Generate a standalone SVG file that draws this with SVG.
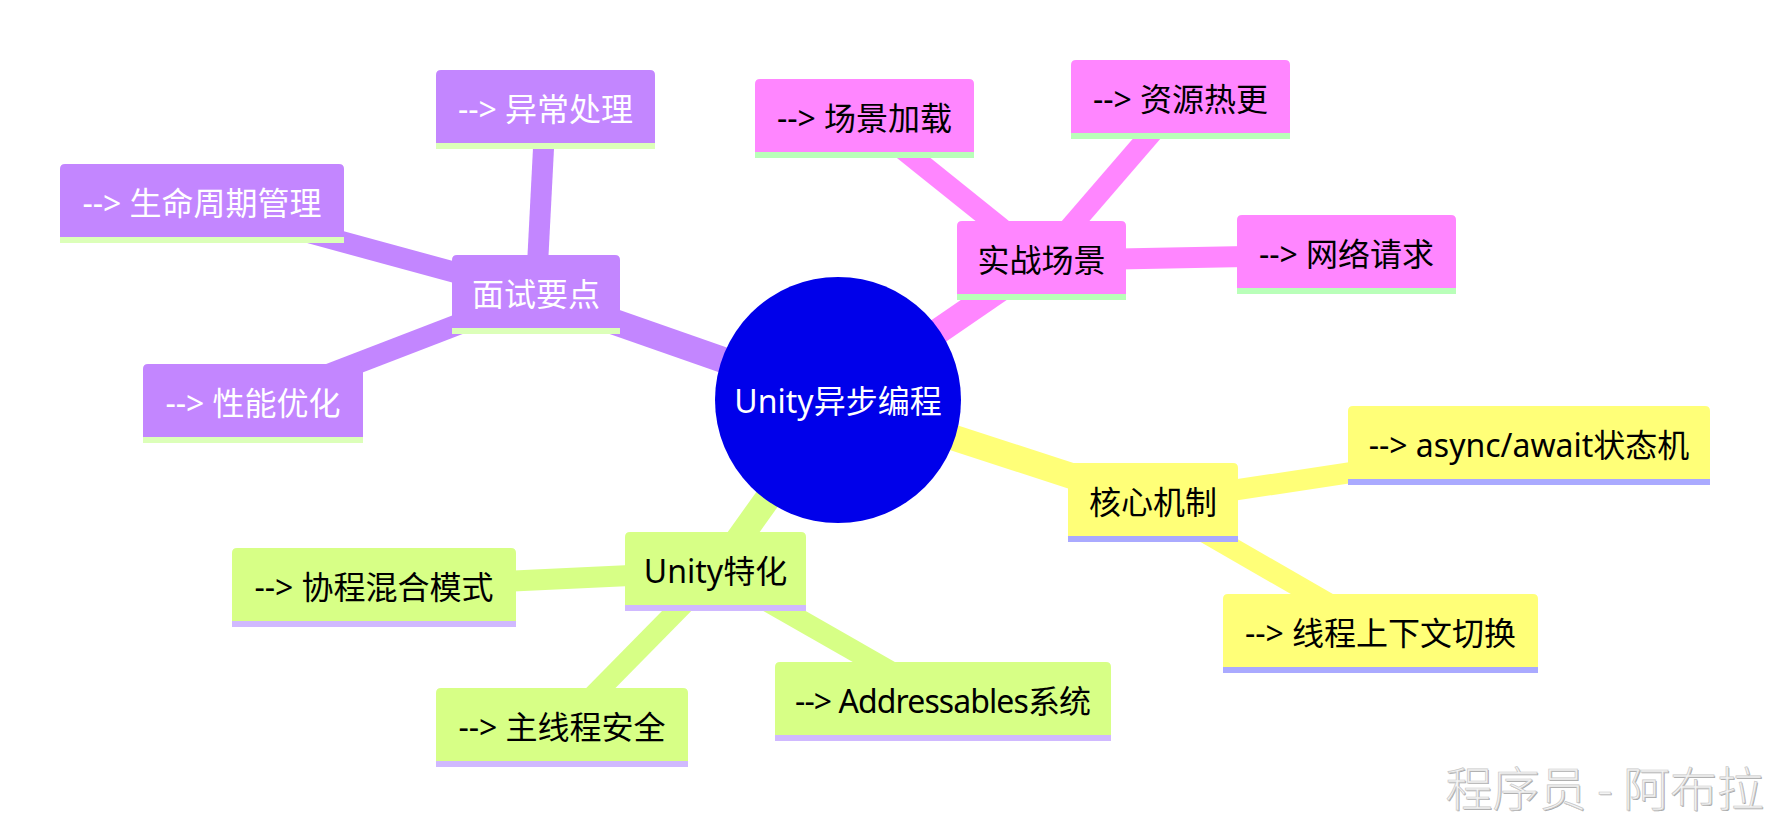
<svg xmlns="http://www.w3.org/2000/svg" width="1770" height="823" viewBox="0 0 1770 823">
<style>
  text { font-family: 'Noto Sans', 'Noto Sans CJK SC', sans-serif; font-size: 32px; text-anchor: middle; }
  .e0 { stroke-width: 26; stroke-linecap: butt; fill: none; }
  .e1 { stroke-width: 21; stroke-linecap: butt; fill: none; }
  .cp { stroke: #C386FF; }
  .ck { stroke: #FF86FF; }
  .cy { stroke: #FFFF78; }
  .cg { stroke: #D7FF86; }
  .fp { fill: #C386FF; }
  .fk { fill: #FF86FF; }
  .fy { fill: #FFFF78; }
  .fg { fill: #D7FF86; }
  .up { fill: #DCFFB9; }
  .uk { fill: #B9FFB9; }
  .uy { fill: #AAAAFF; }
  .ug { fill: #D0B9FF; }
  .tw { fill: #FFFFFF; }
  .tb { fill: #000000; }
  .wm { font-family: 'Noto Sans CJK SC', sans-serif; font-size: 47px; font-weight: 300; text-anchor: end; }
</style>
<rect width="1770" height="823" fill="#FFFFFF"/>
<g id="connectors">
  <line class="e0 cp" x1="838" y1="400" x2="536" y2="294.5"/>
  <line class="e0 ck" x1="838" y1="400" x2="1041.5" y2="260.5"/>
  <line class="e0 cy" x1="838" y1="400" x2="1153" y2="502.5"/>
  <line class="e0 cg" x1="838" y1="400" x2="715.5" y2="571.5"/>
  <line class="e1 cp" x1="536" y1="294.5" x2="545.5" y2="109.5"/>
  <line class="e1 cp" x1="536" y1="294.5" x2="202" y2="203.5"/>
  <line class="e1 cp" x1="536" y1="294.5" x2="253" y2="403.5"/>
  <line class="e1 ck" x1="1041.5" y1="260.5" x2="864.5" y2="118.5"/>
  <line class="e1 ck" x1="1041.5" y1="260.5" x2="1180.5" y2="99.5"/>
  <line class="e1 ck" x1="1041.5" y1="260.5" x2="1346.5" y2="254.5"/>
  <line class="e1 cg" x1="715.5" y1="571.5" x2="374" y2="587.5"/>
  <line class="e1 cg" x1="715.5" y1="571.5" x2="562" y2="727.5"/>
  <line class="e1 cg" x1="715.5" y1="571.5" x2="943" y2="701.5"/>
  <line class="e1 cy" x1="1153" y1="502.5" x2="1529" y2="445.5"/>
  <line class="e1 cy" x1="1153" y1="502.5" x2="1380.5" y2="633.5"/>
</g>
<g id="root">
  <circle cx="838" cy="400" r="123" fill="#0000EA"/>
  <text class="tw" x="838" y="413">Unity异步编程</text>
</g>
<g id="n-mianshi" transform="translate(452,255)">
  <path class="fp" d="M0,73 V5 Q0,0 5,0 H163 Q168,0 168,5 V73 Z"/>
  <rect class="up" x="0" y="73" width="168" height="6"/>
  <text class="tw" x="84" y="51">面试要点</text>
</g>
<g id="n-yichang" transform="translate(436,70)">
  <path class="fp" d="M0,73 V5 Q0,0 5,0 H214 Q219,0 219,5 V73 Z"/>
  <rect class="up" x="0" y="73" width="219" height="6"/>
  <text class="tw" x="109.5" y="51">--&gt; 异常处理</text>
</g>
<g id="n-shengming" transform="translate(60,164)">
  <path class="fp" d="M0,73 V5 Q0,0 5,0 H279 Q284,0 284,5 V73 Z"/>
  <rect class="up" x="0" y="73" width="284" height="6"/>
  <text class="tw" x="142" y="51">--&gt; 生命周期管理</text>
</g>
<g id="n-xingneng" transform="translate(143,364)">
  <path class="fp" d="M0,73 V5 Q0,0 5,0 H215 Q220,0 220,5 V73 Z"/>
  <rect class="up" x="0" y="73" width="220" height="6"/>
  <text class="tw" x="110" y="51">--&gt; 性能优化</text>
</g>
<g id="n-shizhan" transform="translate(957,221)">
  <path class="fk" d="M0,73 V5 Q0,0 5,0 H164 Q169,0 169,5 V73 Z"/>
  <rect class="uk" x="0" y="73" width="169" height="6"/>
  <text class="tb" x="84.5" y="51">实战场景</text>
</g>
<g id="n-changjing" transform="translate(755,79)">
  <path class="fk" d="M0,73 V5 Q0,0 5,0 H214 Q219,0 219,5 V73 Z"/>
  <rect class="uk" x="0" y="73" width="219" height="6"/>
  <text class="tb" x="109.5" y="51">--&gt; 场景加载</text>
</g>
<g id="n-ziyuan" transform="translate(1071,60)">
  <path class="fk" d="M0,73 V5 Q0,0 5,0 H214 Q219,0 219,5 V73 Z"/>
  <rect class="uk" x="0" y="73" width="219" height="6"/>
  <text class="tb" x="109.5" y="51">--&gt; 资源热更</text>
</g>
<g id="n-wangluo" transform="translate(1237,215)">
  <path class="fk" d="M0,73 V5 Q0,0 5,0 H214 Q219,0 219,5 V73 Z"/>
  <rect class="uk" x="0" y="73" width="219" height="6"/>
  <text class="tb" x="109.5" y="51">--&gt; 网络请求</text>
</g>
<g id="n-unity" transform="translate(625,532)">
  <path class="fg" d="M0,73 V5 Q0,0 5,0 H176 Q181,0 181,5 V73 Z"/>
  <rect class="ug" x="0" y="73" width="181" height="6"/>
  <text class="tb" x="90.5" y="51">Unity特化</text>
</g>
<g id="n-xiecheng" transform="translate(232,548)">
  <path class="fg" d="M0,73 V5 Q0,0 5,0 H279 Q284,0 284,5 V73 Z"/>
  <rect class="ug" x="0" y="73" width="284" height="6"/>
  <text class="tb" x="142" y="51">--&gt; 协程混合模式</text>
</g>
<g id="n-zhuxian" transform="translate(436,688)">
  <path class="fg" d="M0,73 V5 Q0,0 5,0 H247 Q252,0 252,5 V73 Z"/>
  <rect class="ug" x="0" y="73" width="252" height="6"/>
  <text class="tb" x="126" y="51">--&gt; 主线程安全</text>
</g>
<g id="n-addr" transform="translate(775,662)">
  <path class="fg" d="M0,73 V5 Q0,0 5,0 H331 Q336,0 336,5 V73 Z"/>
  <rect class="ug" x="0" y="73" width="336" height="6"/>
  <text class="tb" x="168" y="51" textLength="296">--&gt; Addressables系统</text>
</g>
<g id="n-hexin" transform="translate(1068,463)">
  <path class="fy" d="M0,73 V5 Q0,0 5,0 H165 Q170,0 170,5 V73 Z"/>
  <rect class="uy" x="0" y="73" width="170" height="6"/>
  <text class="tb" x="85" y="51">核心机制</text>
</g>
<g id="n-async" transform="translate(1348,406)">
  <path class="fy" d="M0,73 V5 Q0,0 5,0 H357 Q362,0 362,5 V73 Z"/>
  <rect class="uy" x="0" y="73" width="362" height="6"/>
  <text class="tb" x="181" y="51">--&gt; async/await状态机</text>
</g>
<g id="n-xiancheng" transform="translate(1223,594)">
  <path class="fy" d="M0,73 V5 Q0,0 5,0 H310 Q315,0 315,5 V73 Z"/>
  <rect class="uy" x="0" y="73" width="315" height="6"/>
  <text class="tb" x="157.5" y="51">--&gt; 线程上下文切换</text>
</g>
<g id="watermark">
  <text class="wm" x="1765" y="807" fill="#A8A8A8">程序员 - 阿布拉</text>
  <text class="wm" x="1764" y="806" fill="#F4F4F4" stroke="#C8C8C8" stroke-width="0.7">程序员 - 阿布拉</text>
</g>
</svg>
